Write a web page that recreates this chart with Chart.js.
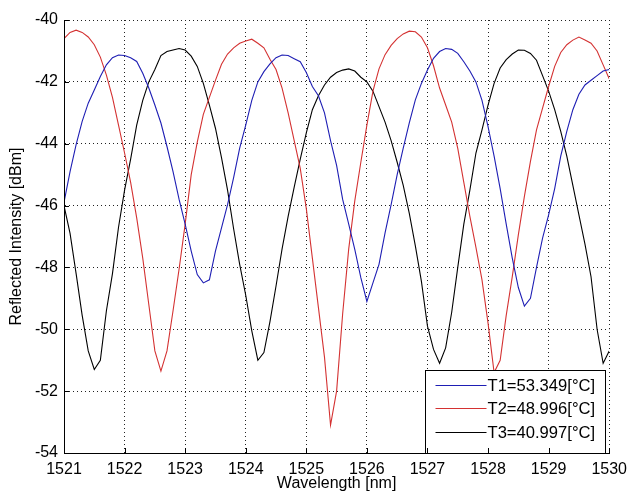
<!DOCTYPE html>
<html><head><meta charset="utf-8">
<script src="https://cdn.jsdelivr.net/npm/chart.js@4.4.1/dist/chart.umd.min.js"></script>
<style>html,body{margin:0;padding:0;background:#fff}#wrap{width:634px;height:498px;position:relative;background:#fff}</style>
</head><body><div id="wrap"><canvas id="c" width="634" height="498"></canvas></div>
<script>
const wavelength = [
1521.0,1521.1,1521.2,1521.3,1521.4,1521.5,1521.6,1521.7,1521.8,1521.9,
1522.0,1522.1,1522.2,1522.3,1522.4,1522.5,1522.6,1522.7,1522.8,1522.9,
1523.0,1523.1,1523.2,1523.3,1523.4,1523.5,1523.6,1523.7,1523.8,1523.9,
1524.0,1524.1,1524.2,1524.3,1524.4,1524.5,1524.6,1524.7,1524.8,1524.9,
1525.0,1525.1,1525.2,1525.3,1525.4,1525.5,1525.6,1525.7,1525.8,1525.9,
1526.0,1526.1,1526.2,1526.3,1526.4,1526.5,1526.6,1526.7,1526.8,1526.9,
1527.0,1527.1,1527.2,1527.3,1527.4,1527.5,1527.6,1527.7,1527.8,1527.9,
1528.0,1528.1,1528.2,1528.3,1528.4,1528.5,1528.6,1528.7,1528.8,1528.9,
1529.0,1529.1,1529.2,1529.3,1529.4,1529.5,1529.6,1529.7,1529.8,1529.9,
1530.0];

const t1 = [
-45.9,-44.9,-44.03,-43.28,-42.69,-42.26,-41.83,-41.45,-41.22,-41.13,
-41.15,-41.22,-41.34,-41.72,-42.2,-42.75,-43.33,-44.09,-44.9,-45.8,
-46.6,-47.47,-48.23,-48.5,-48.4,-47.47,-46.72,-45.97,-45.1,-44.14,
-43.4,-42.6,-42.0,-41.67,-41.42,-41.22,-41.13,-41.15,-41.25,-41.35,
-41.7,-42.15,-42.45,-43.0,-43.9,-44.7,-45.8,-46.6,-47.42,-48.33,
-49.1,-48.5,-47.9,-46.88,-45.97,-45.0,-44.14,-43.33,-42.58,-42.05,
-41.62,-41.24,-41.02,-40.92,-40.95,-41.08,-41.35,-41.65,-42.0,-42.6,
-43.45,-44.4,-45.45,-46.6,-47.7,-48.65,-49.25,-49.0,-48.0,-47.05,
-46.3,-45.45,-44.4,-43.6,-42.9,-42.4,-42.1,-41.95,-41.8,-41.65,
-41.6];

const t2 = [
-40.6,-40.4,-40.33,-40.4,-40.55,-40.8,-41.2,-41.78,-42.5,-43.4,
-44.3,-45.25,-46.4,-47.7,-49.2,-50.7,-51.35,-50.7,-49.4,-48.05,
-46.6,-45.0,-43.95,-43.05,-42.5,-41.95,-41.43,-41.1,-40.9,-40.75,
-40.68,-40.62,-40.75,-40.9,-41.27,-41.6,-42.2,-43.0,-43.9,-44.8,
-46.1,-47.7,-49.3,-50.9,-53.1,-52.0,-49.5,-47.4,-45.85,-44.6,
-43.4,-42.3,-41.58,-41.12,-40.82,-40.6,-40.45,-40.36,-40.38,-40.55,
-40.9,-41.48,-42.2,-42.75,-43.3,-44.15,-45.25,-46.35,-47.35,-48.4,
-49.8,-51.4,-51.0,-49.55,-48.3,-46.95,-45.7,-44.57,-43.55,-42.85,
-42.15,-41.5,-41.05,-40.8,-40.65,-40.55,-40.65,-40.75,-41.0,-41.45,
-41.9];

const t3 = [
-46.0,-46.9,-48.2,-49.55,-50.7,-51.3,-51.0,-49.4,-48.2,-46.7,
-45.5,-44.5,-43.4,-42.6,-42.0,-41.6,-41.15,-41.02,-40.97,-40.92,
-40.97,-41.17,-41.5,-42.05,-42.75,-43.5,-44.45,-45.5,-46.75,-47.9,
-48.9,-50.05,-51.0,-50.75,-49.75,-48.6,-47.4,-46.35,-45.4,-44.5,
-43.65,-42.9,-42.45,-42.1,-41.85,-41.7,-41.62,-41.58,-41.65,-41.85,
-42.0,-42.3,-42.8,-43.3,-43.9,-44.6,-45.35,-46.25,-47.3,-48.45,
-49.9,-50.65,-51.1,-50.6,-49.45,-48.0,-46.6,-45.5,-44.3,-43.55,
-42.75,-42.05,-41.55,-41.28,-41.1,-40.97,-40.98,-41.08,-41.3,-41.8,
-42.3,-42.9,-43.6,-44.4,-45.35,-46.3,-47.25,-48.3,-50.0,-51.1,
-50.7];

const seriesLabels = ['T1=53.349[°C]', 'T2=48.996[°C]', 'T3=40.997[°C]'];
const seriesColors = ['#1e1eb4', '#d43232', '#000000'];
const xTicks = [1521, 1522, 1523, 1524, 1525, 1526, 1527, 1528, 1529, 1530];
const yTicks = [-54, -52, -50, -48, -46, -44, -42, -40];
const xTitle = 'Wavelength [nm]';
const yTitle = 'Reflected Intensity [dBm]';

const FONT = 'Liberation Sans, Arial, Helvetica, sans-serif';

function pts(vals) { return wavelength.map((w, i) => ({x: w, y: vals[i]})); }

const legendAndTicks = {
  id: 'legendAndTicks',
  afterDatasetsDraw(chart) {
    const ctx = chart.ctx, ca = chart.chartArea;
    const bw = 180, bh = 83;
    const bx = Math.round(ca.right - bw - 4) + 0.5;
    const by = Math.round(ca.bottom - bh) + 0.5;
    ctx.save();
    ctx.fillStyle = '#fff';
    ctx.fillRect(bx, by, bw, bh);
    ctx.strokeStyle = '#000';
    ctx.lineWidth = 1;
    ctx.strokeRect(bx, by, bw, bh);
    ctx.font = '16.6px ' + FONT;
    ctx.textBaseline = 'middle';
    ctx.textAlign = 'left';
    seriesLabels.forEach((lab, i) => {
      const yy = Math.round(by + 14 + i * 23.7) + 0.5;
      ctx.strokeStyle = seriesColors[i];
      ctx.beginPath();
      ctx.moveTo(bx + 10, yy);
      ctx.lineTo(bx + 61, yy);
      ctx.stroke();
      ctx.fillStyle = '#000';
      ctx.fillText(lab, bx + 62, yy + 1);
    });
    const xs = chart.scales.x, ys = chart.scales.y;
    ctx.strokeStyle = '#000';
    ctx.beginPath();
    xTicks.forEach(v => {
      const px = Math.round(xs.getPixelForValue(v)) + 0.5;
      ctx.moveTo(px, ca.bottom);
      ctx.lineTo(px, ca.bottom - 5);
    });
    yTicks.forEach(v => {
      const py = Math.round(ys.getPixelForValue(v)) + 0.5;
      ctx.moveTo(ca.left, py);
      ctx.lineTo(ca.left + 5, py);
    });
    ctx.stroke();
    ctx.beginPath();
    ctx.moveTo(Math.round(ca.left) + 0.5, ca.top);
    ctx.lineTo(Math.round(ca.left) + 0.5, Math.round(ca.bottom) + 0.5);
    ctx.lineTo(ca.right, Math.round(ca.bottom) + 0.5);
    ctx.stroke();
    ctx.restore();
  }
};

const bgPlugin = {
  id: 'bg',
  beforeDraw(chart) {
    const ctx = chart.ctx;
    ctx.save();
    ctx.fillStyle = '#fff';
    ctx.fillRect(0, 0, chart.width, chart.height);
    ctx.restore();
  }
};

new Chart(document.getElementById('c'), {
  type: 'line',
  data: {
    datasets: [
      {label: seriesLabels[0], data: pts(t1), borderColor: seriesColors[0]},
      {label: seriesLabels[1], data: pts(t2), borderColor: seriesColors[1]},
      {label: seriesLabels[2], data: pts(t3), borderColor: seriesColors[2]}
    ]
  },
  options: {
    responsive: false,
    animation: false,
    devicePixelRatio: 1,
    layout: {padding: {left: 0, right: 17, top: 20, bottom: 0}},
    elements: {
      point: {radius: 0},
      line: {borderWidth: 1.1, tension: 0, fill: false}
    },
    plugins: {legend: {display: false}, tooltip: {enabled: false}},
    scales: {
      x: {
        type: 'linear', min: 1521, max: 1530,
        afterBuildTicks: s => { s.ticks = xTicks.map(v => ({value: v})); },
        afterFit: s => { s.height = 45; },
        ticks: {color: '#000', font: {family: FONT, size: 16}, padding: 7, maxRotation: 0, autoSkip: false,
                callback: v => String(v)},
        grid: {color: '#222', lineWidth: 1, drawTicks: false},
        border: {display: true, color: '#000', width: 1, dash: [1, 3]},
        title: {display: true, text: xTitle, color: '#000', font: {family: FONT, size: 16}, padding: {top: 0, bottom: 5}}
      },
      y: {
        type: 'linear', min: -54, max: -40,
        afterBuildTicks: s => { s.ticks = yTicks.map(v => ({value: v})); },
        afterFit: s => { s.width = 64; },
        ticks: {color: '#000', font: {family: FONT, size: 16}, padding: 6, autoSkip: false,
                callback: v => String(v)},
        grid: {color: '#222', lineWidth: 1, drawTicks: false},
        border: {display: true, color: '#000', width: 1, dash: [1, 3]},
        title: {display: true, text: yTitle, color: '#000', font: {family: FONT, size: 16}, padding: {top: 7, bottom: 0}}
      }
    }
  },
  plugins: [bgPlugin, legendAndTicks]
});
</script>
</body></html>
